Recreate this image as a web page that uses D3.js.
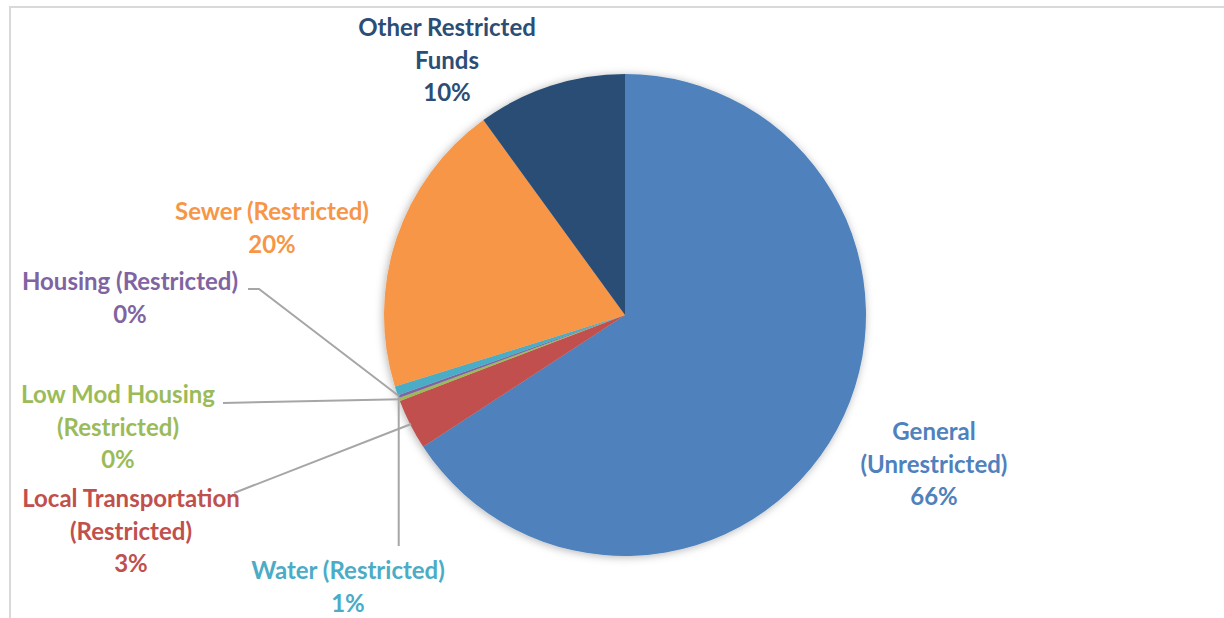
<!DOCTYPE html>
<html>
<head>
<meta charset="utf-8">
<script src="https://cdn.jsdelivr.net/npm/d3@7"></script>
<style>
  html, body { margin: 0; padding: 0; background: #fff; }
  svg { display: block; }
  text { font-family: Lato, "Open Sans", sans-serif; font-weight: bold; }
</style>
</head>
<body>
<svg></svg>
<script>
// chart data
const categories = [
    'General (Unrestricted)',
    'Local Transportation (Restricted)',
    'Low Mod Housing (Restricted)',
    'Housing (Restricted)',
    'Water (Restricted)',
    'Sewer (Restricted)',
    'Other Restricted Funds'
];
const values = [65.8, 3.4, 0.2, 0.2, 0.6, 19.8, 10.0];
const colors = ['#4F81BD', '#C0504D', '#9BBB59', '#8064A2', '#4BACC6', '#F79646', '#2C4D75'];

// label text is broken the way the chart wraps it
const labelLines = [
    ['General', '(Unrestricted)'],
    ['Local Transportation', '(Restricted)'],
    ['Low Mod Housing', '(Restricted)'],
    ['Housing (Restricted)'],
    ['Water (Restricted)'],
    ['Sewer (Restricted)'],
    ['Other Restricted', 'Funds']
];

// layout: label center x, first baseline y, and leader line start (null = no leader)
const labelLayout = [
    { x: 934, y: 440, leader: null },
    { x: 131, y: 507, leader: [[234, 493]] },
    { x: 118, y: 403, leader: [[223, 403]] },
    { x: 130, y: 290, leader: [[248, 289], [259, 289]] },
    { x: 348, y: 579, leader: 'vertical' },
    { x: 272, y: 220, leader: null },
    { x: 447, y: 36, leader: null }
];

document.addEventListener('DOMContentLoaded', function () {
    const width = 1224;
    const height = 618;
    const cx = 625, cy = 315, radius = 241;
    const lineHeight = 32.5;

    const svg = d3.select('svg')
        .attr('width', width)
        .attr('height', height);

    const defs = svg.append('defs');
    defs.append('filter')
        .attr('id', 'shadow')
        .attr('x', '-20%').attr('y', '-20%')
        .attr('width', '140%').attr('height', '140%')
        .append('feDropShadow')
        .attr('dx', -1).attr('dy', 1)
        .attr('stdDeviation', 4)
        .attr('flood-color', '#000')
        .attr('flood-opacity', 0.3);

    // chart area border (top and left visible)
    svg.append('path')
        .attr('d', `M10,${height} L10,7 L${width},7`)
        .attr('fill', 'none')
        .attr('stroke', '#d9d9d9')
        .attr('stroke-width', 2);

    const data = categories.map((c, i) => ({ name: c, value: values[i], color: colors[i], i: i }));
    const total = d3.sum(values);
    const pct = d3.format('.0%');

    const pie = d3.pie().sort(null).value(d => d.value);
    const arcs = pie(data);
    const arc = d3.arc().innerRadius(0).outerRadius(radius);

    const g = svg.append('g').attr('transform', `translate(${cx},${cy})`);

    g.append('g')
        .attr('filter', 'url(#shadow)')
        .selectAll('path')
        .data(arcs)
        .enter().append('path')
        .attr('d', arc)
        .attr('fill', d => d.data.color);

    // leader lines
    function rimPoint(d, r) {
        const a = (d.startAngle + d.endAngle) / 2;
        return [cx + r * Math.sin(a), cy - r * Math.cos(a)];
    }

    arcs.forEach((d, i) => {
        const lay = labelLayout[i];
        if (!lay.leader) return;
        const end = rimPoint(d, radius - 1);
        let pts;
        if (lay.leader === 'vertical') {
            pts = [[end[0] + 1.5, 546], [end[0] + 1.5, end[1] + 6]];
        } else {
            pts = lay.leader.concat([end]);
        }
        svg.append('path')
            .attr('d', d3.line()(pts))
            .attr('fill', 'none')
            .attr('stroke', '#A6A6A6')
            .attr('stroke-width', 2);
    });

    // data labels
    arcs.forEach((d, i) => {
        const lay = labelLayout[i];
        const lines = labelLines[i].concat([pct(d.data.value / total)]);
        const t = svg.append('text')
            .attr('text-anchor', 'middle')
            .attr('fill', d.data.color)
            .style('font-size', '24px');
        lines.forEach((ln, k) => {
            t.append('tspan')
                .attr('x', lay.x)
                .attr('y', lay.y + k * lineHeight)
                .text(ln);
        });
    });
});
</script>
</body>
</html>
